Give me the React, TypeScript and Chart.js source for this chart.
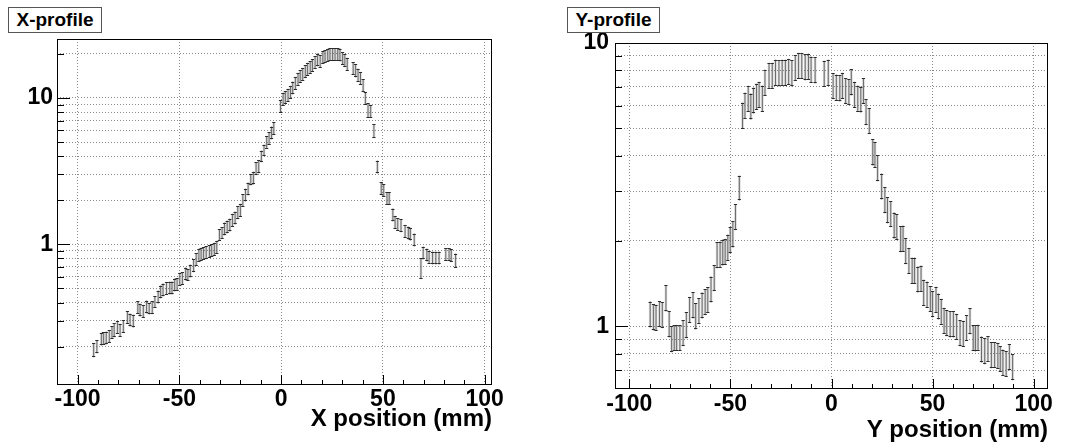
import React, { useEffect, useRef } from 'react';
import { Chart, registerables } from 'chart.js';

Chart.register(...registerables);

const FONT = "'Liberation Sans', Arial, Helvetica, sans-serif";

// ---------- X-profile data (bin position in mm, mean value, error in % of value)
const xProfilePos = [
  -92.1, -90.5, -88.3, -87.2, -85.9, -84.4, -83.1, -82.0, -80.4, -79.1,
  -77.5, -75.5, -74.2, -72.6, -70.4, -69.3, -67.7, -66.1, -64.8, -63.3,
  -62.0, -60.4, -59.2, -58.0, -56.3, -54.7, -53.6, -52.3, -51.1, -49.8,
  -48.5, -46.9, -45.8, -44.6, -43.0, -41.7, -40.4, -39.3, -38.1, -36.8,
  -35.2, -34.1, -32.8, -31.6, -30.3, -29.0, -27.8, -26.5, -25.2, -23.9,
  -22.6, -21.3, -20.0, -18.8, -17.5, -16.2, -14.9, -13.6, -12.3, -11.0,
  -9.7, -8.4, -7.1, -5.9, -4.7, -3.6, -0.3, 1.0, 2.1, 3.4,
  4.6, 5.7, 7.0, 8.3, 9.4, 10.6, 11.9, 13.0, 14.3, 15.4,
  16.7, 17.9, 19.2, 20.5, 21.6, 22.9, 24.0, 25.3, 26.5, 27.8,
  28.9, 30.2, 31.3, 32.5, 35.4, 36.6, 37.8, 39.0, 40.3, 41.4,
  42.7, 44.0, 45.6, 47.3, 49.2, 50.4, 52.0, 53.1, 54.9, 56.0,
  57.3, 58.9, 60.9, 62.5, 63.5, 65.4, 68.7, 69.8, 71.6, 72.7,
  74.4, 76.0, 77.6, 80.9, 82.5, 83.6, 85.7,
];
const xProfileVal = [
  0.19, 0.20, 0.226, 0.228, 0.23, 0.235, 0.25, 0.26, 0.272, 0.26,
  0.275, 0.317, 0.305, 0.30, 0.371, 0.357, 0.35, 0.375, 0.365, 0.37,
  0.404, 0.438, 0.475, 0.49, 0.50, 0.505, 0.505, 0.53, 0.535, 0.58,
  0.585, 0.63, 0.62, 0.66, 0.717, 0.79, 0.846, 0.86, 0.87, 0.88,
  0.90, 0.91, 0.93, 0.96, 1.16, 1.2, 1.28, 1.32, 1.36, 1.47,
  1.52, 1.65, 1.72, 2.0, 2.18, 2.4, 2.78, 2.85, 3.3, 3.4,
  4.0, 4.4, 5.0, 5.3, 5.8, 6.2, 8.78, 9.87, 10.1, 10.5,
  11.0, 11.76, 12.66, 13.5, 14.1, 14.6, 15.2, 15.8, 16.2, 16.8,
  17.6, 18.3, 17.9, 19.0, 19.3, 19.7, 19.9, 19.9, 19.9, 19.9,
  19.8, 18.7, 18.05, 17.1, 16.0, 15.4, 14.4, 13.7, 12.2, 10.0,
  8.26, 8.15, 5.98, 3.39, 2.41, 2.35, 2.07, 2.07, 1.595, 1.42,
  1.37, 1.345, 1.233, 1.2, 1.18, 1.076, 0.69, 0.876, 0.849, 0.815,
  0.81, 0.81, 0.81, 0.854, 0.856, 0.84, 0.778,
];
const xProfileErrPct = [
  11, 10, 10, 10, 10, 10, 10, 11, 10, 10,
  10, 10, 10, 10, 10, 10, 10, 10, 9, 10,
  9, 10, 10, 10, 10, 10, 10, 10, 10, 10,
  10, 10, 9, 10, 10, 10, 10, 10, 10, 10,
  10, 10, 10, 10, 9, 9, 10, 10, 10, 10,
  10, 10, 10, 10, 10, 10, 9, 10, 10, 10,
  9, 9, 10, 10, 10, 10, 10, 10, 10, 10,
  10, 10, 10, 10, 10, 10, 10, 10, 10, 10,
  10, 10, 10, 10, 10, 10, 10, 10, 10, 10,
  10, 10, 10, 10, 10, 10, 10, 10, 10, 10,
  11, 10, 11, 10, 10, 10, 10, 10, 10, 10,
  10, 10, 10, 10, 10, 10, 16, 10, 10, 10,
  10, 10, 10, 10, 10, 10, 11,
];

// ---------- Y-profile data
const yProfilePos = [
  -89.7, -88.1, -86.8, -85.1, -83.7, -81.9, -80.3, -79.1, -77.8, -76.6,
  -75.0, -73.4, -71.8, -70.2, -68.5, -67.2, -65.6, -64.0, -62.5, -61.2,
  -59.6, -58.0, -56.6, -55.1, -53.8, -52.6, -51.3, -50.1, -48.8, -47.5,
  -45.6, -44.0, -42.8, -41.2, -39.9, -38.6, -37.1, -35.8, -34.2, -32.9,
  -30.9, -29.3, -27.7, -26.0, -24.4, -22.8, -21.2, -19.6, -17.9, -16.3,
  -14.7, -13.0, -11.4, -10.1, -8.1, -3.6, -1.6, 0.8, 2.4, 4.1,
  5.4, 7.0, 8.6, 9.8, 11.4, 13.0, 14.5, 15.8, 17.1, 18.7,
  20.4, 21.5, 22.8, 24.8, 26.4, 27.7, 29.3, 31.0, 32.3, 34.2,
  35.4, 36.7, 38.3, 39.9, 41.1, 42.7, 44.3, 45.6, 47.3, 48.9,
  50.0, 51.7, 52.9, 54.3, 55.7, 57.0, 58.7, 60.3, 61.9, 63.6,
  65.2, 66.8, 68.5, 70.1, 71.2, 72.5, 74.2, 75.8, 77.4, 79.1,
  80.7, 82.3, 83.5, 84.8, 86.4, 88.0, 89.6,
];
const yProfileVal = [
  1.106, 1.08, 1.077, 1.109, 1.10, 1.26, 1.02, 0.904, 0.914, 0.914,
  0.914, 0.95, 1.013, 1.148, 1.191, 1.089, 1.136, 1.19, 1.223, 1.243,
  1.355, 1.486, 1.79, 1.80, 1.83, 1.84, 1.905, 2.02, 2.12, 2.44,
  3.09, 5.57, 6.04, 6.39, 6.0, 6.3, 6.5, 6.6, 6.4, 7.28,
  7.7, 7.7, 7.9, 7.85, 7.9, 7.9, 7.95, 7.85, 8.2, 8.35,
  8.35, 8.25, 8.3, 8.1, 8.05, 7.83, 7.9, 7.08, 7.0, 6.95,
  7.1, 6.8, 6.75, 7.3, 6.6, 6.4, 6.35, 6.8, 5.73, 5.33,
  4.13, 4.05, 3.63, 3.13, 2.8, 2.58, 2.5, 2.28, 2.25, 2.04,
  2.05, 1.85, 1.71, 1.58, 1.58, 1.47, 1.48, 1.32, 1.30, 1.254,
  1.20, 1.246, 1.18, 1.13, 1.05, 1.03, 1.02, 1.02, 1.00, 0.95,
  0.945, 0.99, 1.046, 0.913, 0.91, 0.915, 0.832, 0.82, 0.835, 0.794,
  0.795, 0.79, 0.77, 0.748, 0.74, 0.78, 0.72,
];
const yProfileErrPct = [
  10.5, 10.5, 10.5, 10.5, 10.5, 10.5, 10.5, 10.5, 10.5, 10.5,
  10.5, 10.5, 10.5, 10.5, 10.5, 10.5, 10.5, 10.5, 10.5, 10.5,
  10.5, 10.5, 10.5, 10.5, 10.5, 10.5, 10.5, 10.5, 10.5, 10.5,
  10, 10.5, 10.5, 10.5, 10.5, 10.5, 10.5, 10.5, 10.5, 10.5,
  10.5, 10.5, 10.5, 10.5, 10.5, 10.5, 10.5, 10.5, 10.5, 10.5,
  10.5, 10.5, 10.5, 10.5, 10.5, 10.5, 10.5, 10.5, 10.5, 10.5,
  10.5, 10.5, 10.5, 10.5, 10.5, 10.5, 10.5, 10.5, 10.5, 10.5,
  10.5, 10.5, 10.5, 10.5, 10.5, 10.5, 10.5, 10.5, 10.5, 10.5,
  10.5, 10.5, 10.5, 10.5, 10.5, 10.5, 10.5, 10.5, 10.5, 10.5,
  10.5, 10.5, 10.5, 10.5, 10.5, 10.5, 10.5, 10.5, 10.5, 10.5,
  10.5, 10.5, 10.5, 10.5, 10.5, 10.5, 10.5, 10.5, 10.5, 10.5,
  10.5, 10.5, 10.5, 10.5, 10.5, 10.5, 10.5,
];

// ---------- axis ticks
const xMajorTicks = [-100, -50, 0, 50, 100];
const xMinorTicks = [-90, -80, -70, -60, -40, -30, -20, -10, 10, 20, 30, 40, 60, 70, 80, 90];
const leftLogTicks = [0.2, 0.3, 0.4, 0.5, 0.6, 0.7, 0.8, 0.9, 1, 2, 3, 4, 5, 6, 7, 8, 9, 10, 20];
const rightLogTicks = [0.7, 0.8, 0.9, 1, 2, 3, 4, 5, 6, 7, 8, 9, 10];
const logLabelValues = [1, 10];

const panelTitles = ['X-profile', 'Y-profile'];
const axisTitles = ['X position (mm)', 'Y position (mm)'];

const errorBarPlugin = {
  id: 'rootErrorBars',
  afterDatasetsDraw(chart: any) {
    const { ctx, chartArea: a, scales } = chart;
    const xs = scales.x;
    const ys = scales.y;
    ctx.save();
    ctx.beginPath();
    ctx.rect(a.left, a.top, a.right - a.left, a.bottom - a.top);
    ctx.clip();
    chart.data.datasets.forEach((ds: any) => {
      const errs: number[] = ds.errPct;
      const bars = ds.data.map((pt: any, i: number) => {
        const e = (pt.y * errs[i]) / 100;
        return {
          px: xs.getPixelForValue(pt.x),
          top: ys.getPixelForValue(pt.y + e),
          bot: ys.getPixelForValue(pt.y - e),
        };
      });
      ctx.fillStyle = 'rgba(120,120,120,0.28)';
      bars.forEach((b: any) => {
        ctx.fillRect(b.px - 1.3, b.top, 2.6, b.bot - b.top);
      });
      ctx.lineWidth = 1;
      ctx.strokeStyle = '#6a6a6a';
      ctx.beginPath();
      bars.forEach((b: any) => {
        ctx.moveTo(b.px, b.top);
        ctx.lineTo(b.px, b.bot);
      });
      ctx.stroke();
      ctx.strokeStyle = '#2b2b2b';
      ctx.beginPath();
      bars.forEach((b: any) => {
        const ty = Math.round(b.top) + 0.5;
        const by = Math.round(b.bot) - 0.5;
        ctx.moveTo(b.px - 1.6, ty);
        ctx.lineTo(b.px + 1.6, ty);
        ctx.moveTo(b.px - 1.6, by);
        ctx.lineTo(b.px + 1.6, by);
      });
      ctx.stroke();
    });
    ctx.restore();
  },
};

const frameTicksPlugin = {
  id: 'rootFrameTicks',
  afterDraw(chart: any) {
    const { ctx, chartArea: a, scales } = chart;
    const xs = scales.x;
    const ys = scales.y;
    const spec = chart.options.plugins.rootFrameTicks;
    ctx.save();
    ctx.strokeStyle = '#000';
    ctx.lineWidth = 1;
    ctx.strokeRect(a.left + 0.5, a.top + 0.5, a.right - a.left - 1, a.bottom - a.top - 1);
    ctx.beginPath();
    const xt = (v: number, len: number) => {
      const p = Math.round(xs.getPixelForValue(v)) + 0.5;
      if (p < a.left || p > a.right) return;
      ctx.moveTo(p, a.bottom);
      ctx.lineTo(p, a.bottom - len);
    };
    xMajorTicks.forEach((v) => xt(v, spec.xMajorLen));
    xMinorTicks.forEach((v) => xt(v, spec.xMinorLen));
    (spec.yTicks as number[]).forEach((v) => {
      const p = Math.round(ys.getPixelForValue(v)) + 0.5;
      if (p < a.top || p > a.bottom) return;
      const len = logLabelValues.includes(v) ? spec.yMajorLen : spec.yMinorLen;
      ctx.moveTo(a.left, p);
      ctx.lineTo(a.left + len, p);
    });
    ctx.stroke();
    ctx.restore();
  },
};

type Panel = {
  w: number;
  h: number;
  area: { l: number; r: number; t: number; b: number };
  xMin: number;
  xMax: number;
  yMin: number;
  yMax: number;
  yTicks: number[];
  pos: number[];
  val: number[];
  err: number[];
  xTitle: string;
  xLabelPad: number;
  yLabelPad: number;
  titlePad: number;
};

function makeConfig(p: Panel): any {
  const tickFont = { family: FONT, size: 23, weight: 'bold' as const };
  return {
    type: 'scatter',
    data: {
      datasets: [
        {
          data: p.pos.map((x, i) => ({ x, y: p.val[i] })),
          errPct: p.err,
          pointRadius: 0,
          pointHoverRadius: 0,
          showLine: false,
        },
      ],
    },
    options: {
      animation: false,
      responsive: false,
      devicePixelRatio: 1,
      events: [],
      layout: { padding: { left: 0, top: p.area.t, right: p.w - p.area.r, bottom: 0 } },
      plugins: {
        legend: { display: false },
        tooltip: { enabled: false },
        title: { display: false },
        rootFrameTicks: { yTicks: p.yTicks, xMajorLen: 10, xMinorLen: 5, yMajorLen: 13, yMinorLen: 7 },
      },
      scales: {
        x: {
          type: 'linear',
          position: 'bottom',
          min: p.xMin,
          max: p.xMax,
          afterBuildTicks: (s: any) => {
            s.ticks = xMajorTicks.map((v) => ({ value: v }));
          },
          afterFit: (s: any) => {
            s.height = p.h - p.area.b;
            s.paddingLeft = 0;
            s.paddingRight = 0;
            s.paddingTop = 0;
            s.paddingBottom = 0;
          },
          ticks: {
            font: tickFont,
            color: '#000',
            padding: p.xLabelPad,
            maxRotation: 0,
            minRotation: 0,
            autoSkip: false,
            callback: (v: number) => String(v),
          },
          grid: { color: '#8a8a8a', lineWidth: 1, drawTicks: false },
          border: { display: false, dash: [1, 2] },
          title: {
            display: true,
            text: p.xTitle,
            align: 'end',
            color: '#000',
            font: { family: FONT, size: 24, weight: 'bold' },
            padding: { top: 0, bottom: p.titlePad },
          },
        },
        y: {
          type: 'logarithmic',
          position: 'left',
          min: p.yMin,
          max: p.yMax,
          afterBuildTicks: (s: any) => {
            s.ticks = p.yTicks.map((v) => ({ value: v }));
          },
          afterFit: (s: any) => {
            s.width = p.area.l;
            s.paddingTop = 0;
            s.paddingBottom = 0;
            s.paddingLeft = 0;
            s.paddingRight = 0;
          },
          ticks: {
            font: tickFont,
            color: '#000',
            padding: p.yLabelPad,
            autoSkip: false,
            callback: (v: number) => (logLabelValues.includes(v) ? String(v) : ''),
          },
          grid: { color: '#8a8a8a', lineWidth: 1, drawTicks: false },
          border: { display: false, dash: [1, 2] },
        },
      },
    },
    plugins: [errorBarPlugin, frameTicksPlugin],
  };
}

const leftPanel: Panel = {
  w: 532,
  h: 445,
  area: { l: 57, r: 492, t: 39, b: 385 },
  xMin: -110.1,
  xMax: 103.6,
  yMin: 0.1092,
  yMax: 25.3,
  yTicks: leftLogTicks,
  pos: xProfilePos,
  val: xProfileVal,
  err: xProfileErrPct,
  xTitle: axisTitles[0],
  xLabelPad: 1,
  yLabelPad: 4,
  titlePad: 11,
};

const rightPanel: Panel = {
  w: 533,
  h: 445,
  area: { l: 83, r: 516, t: 43, b: 389 },
  xMin: -107.1,
  xMax: 107.1,
  yMin: 0.639,
  yMax: 10,
  yTicks: rightLogTicks,
  pos: yProfilePos,
  val: yProfileVal,
  err: yProfileErrPct,
  xTitle: axisTitles[1],
  xLabelPad: 2,
  yLabelPad: 6,
  titlePad: 0,
};

function PanelChart({ panel, left }: { panel: Panel; left: number }) {
  const ref = useRef<HTMLCanvasElement | null>(null);
  useEffect(() => {
    if (!ref.current) return;
    const chart = new Chart(ref.current, makeConfig(panel));
    return () => chart.destroy();
  }, [panel]);
  return (
    <canvas
      ref={ref}
      width={panel.w}
      height={panel.h}
      style={{ position: 'absolute', left, top: 0, width: panel.w, height: panel.h }}
    />
  );
}

function TitleBox({ text, left, width }: { text: string; left: number; width: number }) {
  return (
    <div
      style={{
        position: 'absolute',
        left,
        top: 7,
        width,
        height: 26,
        boxSizing: 'border-box',
        border: '1px solid #555',
        background: '#fff',
        fontFamily: FONT,
        fontWeight: 'bold',
        fontSize: 19,
        lineHeight: '24px',
        textAlign: 'center',
        color: '#000',
        zIndex: 2,
      }}
    >
      {text}
    </div>
  );
}

export default function App() {
  return (
    <div
      style={{
        position: 'absolute',
        left: 0,
        top: 0,
        width: 1065,
        height: 445,
        background: '#fff',
        overflow: 'hidden',
      }}
    >
      <PanelChart panel={leftPanel} left={0} />
      <PanelChart panel={rightPanel} left={532} />
      <TitleBox text={panelTitles[0]} left={8} width={94} />
      <TitleBox text={panelTitles[1]} left={567} width={93} />
    </div>
  );
}
